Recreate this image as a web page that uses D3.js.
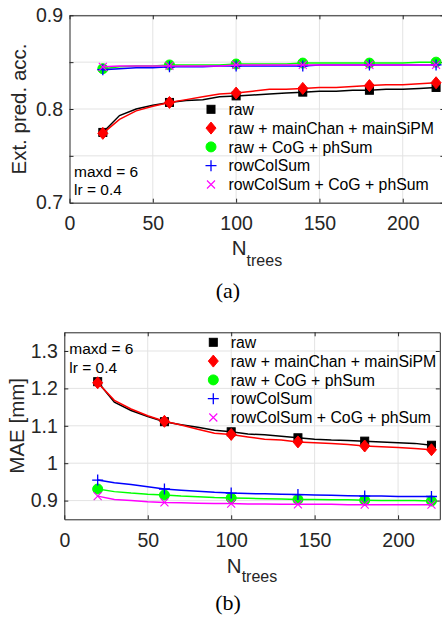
<!DOCTYPE html>
<html>
<head>
<meta charset="utf-8">
<script src="https://cdn.jsdelivr.net/npm/d3@7"></script>
<style>
  body { margin: 0; background: #fff; }
  text { font-family: "Liberation Sans", Arial, sans-serif; }
</style>
</head>
<body>
<svg width="442" height="625"></svg>
<script>
// number of trees on the dense line, and where the markers sit
var nTrees = [20, 30, 40, 50, 60, 70, 80, 90, 100, 110, 120, 130, 140, 150, 160, 170, 180, 190, 200, 210, 220];
var markerTrees = [20, 60, 100, 140, 180, 220];

var seriesNames = ["raw", "raw + mainChan + mainSiPM", "raw + CoG + phSum", "rowColSum", "rowColSum + CoG + phSum"];

// (a) extrapolated prediction accuracy
var accRaw      = [0.775, 0.793, 0.800, 0.804, 0.807, 0.809, 0.810, 0.813, 0.814, 0.815, 0.816, 0.817, 0.818, 0.819, 0.819, 0.820, 0.820, 0.821, 0.821, 0.822, 0.823];
var accMainChan = [0.774, 0.789, 0.798, 0.803, 0.807, 0.810, 0.813, 0.816, 0.817, 0.819, 0.821, 0.821, 0.822, 0.823, 0.823, 0.824, 0.825, 0.826, 0.826, 0.827, 0.828];
var accCoG      = [0.843, 0.845, 0.846, 0.846, 0.847, 0.847, 0.847, 0.847, 0.848, 0.848, 0.848, 0.848, 0.849, 0.849, 0.849, 0.849, 0.849, 0.849, 0.849, 0.850, 0.850];
var accRowCol   = [0.842, 0.843, 0.844, 0.844, 0.845, 0.845, 0.845, 0.846, 0.846, 0.846, 0.846, 0.846, 0.846, 0.847, 0.847, 0.847, 0.847, 0.847, 0.847, 0.847, 0.847];
var accRowCoG   = [0.845, 0.846, 0.846, 0.846, 0.846, 0.846, 0.846, 0.846, 0.847, 0.847, 0.847, 0.847, 0.847, 0.847, 0.847, 0.847, 0.847, 0.847, 0.847, 0.847, 0.847];

// (b) mean absolute error in mm
var maeRaw      = [1.218, 1.163, 1.141, 1.125, 1.111, 1.103, 1.096, 1.088, 1.084, 1.078, 1.076, 1.072, 1.068, 1.064, 1.062, 1.061, 1.059, 1.057, 1.055, 1.053, 1.048];
var maeMainChan = [1.215, 1.168, 1.145, 1.127, 1.112, 1.102, 1.091, 1.080, 1.077, 1.070, 1.064, 1.062, 1.057, 1.055, 1.053, 1.050, 1.046, 1.044, 1.042, 1.039, 1.036];
var maeCoG      = [0.931, 0.924, 0.920, 0.917, 0.915, 0.912, 0.910, 0.908, 0.907, 0.906, 0.905, 0.904, 0.903, 0.903, 0.902, 0.902, 0.901, 0.900, 0.900, 0.900, 0.899];
var maeRowCol   = [0.955, 0.948, 0.943, 0.937, 0.931, 0.928, 0.925, 0.922, 0.920, 0.919, 0.918, 0.917, 0.916, 0.915, 0.914, 0.913, 0.912, 0.912, 0.911, 0.911, 0.911];
var maeRowCoG   = [0.912, 0.903, 0.900, 0.897, 0.895, 0.894, 0.893, 0.892, 0.892, 0.891, 0.891, 0.890, 0.890, 0.890, 0.890, 0.889, 0.889, 0.889, 0.889, 0.889, 0.889];

var xTicks = [0, 50, 100, 150, 200];
var accTicks = [0.7, 0.75, 0.8, 0.85, 0.9];
var accTickLabels = ["0.7", "", "0.8", "", "0.9"];
var maeTicks = [0.9, 1.0, 1.1, 1.2, 1.3];
var maeTickLabels = ["0.9", "1", "1.1", "1.2", "1.3"];

var colors = ["#000000", "#ff0000", "#00ff00", "#0000ff", "#ff00ff"];
var shapes = ["square", "diamond", "circle", "plus", "cross"];

var svg = d3.select("svg");
var axisColor = "#262626";

function drawMarker(g, shape, color, cx, cy) {
  if (shape == "square") {
    g.append("rect").attr("x", cx - 4).attr("y", cy - 4).attr("width", 8).attr("height", 8)
      .attr("fill", color).attr("stroke", color);
  } else if (shape == "diamond") {
    g.append("path").attr("d", "M" + cx + "," + (cy - 6) + "L" + (cx + 5) + "," + cy + "L" + cx + "," + (cy + 6) + "L" + (cx - 5) + "," + cy + "Z")
      .attr("fill", color).attr("stroke", color);
  } else if (shape == "circle") {
    g.append("circle").attr("cx", cx).attr("cy", cy).attr("r", 5).attr("fill", color).attr("stroke", color);
  } else if (shape == "plus") {
    g.append("path").attr("d", "M" + (cx - 5.5) + "," + cy + "H" + (cx + 5.5) + "M" + cx + "," + (cy - 5.5) + "V" + (cy + 5.5))
      .attr("stroke", color).attr("stroke-width", 1.3).attr("fill", "none");
  } else {
    g.append("path").attr("d", "M" + (cx - 4) + "," + (cy - 4) + "L" + (cx + 4) + "," + (cy + 4) + "M" + (cx - 4) + "," + (cy + 4) + "L" + (cx + 4) + "," + (cy - 4))
      .attr("stroke", color).attr("stroke-width", 1.1).attr("fill", "none");
  }
}

function drawPanel(p) {
  var g = svg.append("g");
  var x = d3.scaleLinear().domain([0, 225]).range([p.left, p.right]);
  var y = d3.scaleLinear().domain(p.yDomain).range([p.bottom, p.top]);

  // grid
  g.append("g").selectAll("line").data(xTicks.slice(1)).enter().append("line")
    .attr("x1", function(d) { return x(d); }).attr("x2", function(d) { return x(d); })
    .attr("y1", p.top).attr("y2", p.bottom)
    .attr("stroke", "#e3e3e3").attr("stroke-width", 1);
  g.append("g").selectAll("line").data(p.yTicks).enter().append("line")
    .attr("x1", p.left).attr("x2", p.right)
    .attr("y1", function(d) { return y(d); }).attr("y2", function(d) { return y(d); })
    .attr("stroke", "#e3e3e3").attr("stroke-width", 1);

  // axes, ticks pointing inwards like matlab
  var ax = [
    g.append("g").attr("transform", "translate(0," + p.bottom + ")")
      .call(d3.axisBottom(x).tickValues(xTicks).tickSizeInner(-4).tickSizeOuter(0).tickPadding(13.5)),
    g.append("g").attr("transform", "translate(0," + p.top + ")")
      .call(d3.axisTop(x).tickValues(xTicks).tickSizeInner(-4).tickSizeOuter(0).tickFormat("")),
    g.append("g").attr("transform", "translate(" + p.left + ",0)")
      .call(d3.axisLeft(y).tickValues(p.yTicks).tickSizeInner(-4).tickSizeOuter(0).tickPadding(6.5)
        .tickFormat(function(d, i) { return p.yTickLabels[i]; })),
    g.append("g").attr("transform", "translate(" + p.right + ",0)")
      .call(d3.axisRight(y).tickValues(p.yTicks).tickSizeInner(-4).tickSizeOuter(0).tickFormat(""))
  ];
  ax.forEach(function(a) {
    a.attr("font-family", "Liberation Sans, Arial, sans-serif").attr("font-size", 19.5);
    a.selectAll("path, line").attr("stroke", axisColor).attr("stroke-width", 1);
    a.selectAll("text").attr("fill", axisColor);
  });

  // curves then markers, series by series
  var line = d3.line().x(function(d, i) { return x(nTrees[i]); }).y(function(d) { return y(d); });
  p.series.forEach(function(vals, s) {
    g.append("path").datum(vals).attr("d", line)
      .attr("fill", "none").attr("stroke", colors[s]).attr("stroke-width", 1.5);
    var mg = g.append("g");
    nTrees.forEach(function(n, i) {
      if (markerTrees.indexOf(n) >= 0) drawMarker(mg, shapes[s], colors[s], x(n), y(vals[i]));
    });
  });

  // legend
  var lg = g.append("g");
  seriesNames.forEach(function(name, s) {
    var ly = p.legendY + s * 18.8;
    drawMarker(lg, shapes[s], colors[s], p.legendX, ly);
    lg.append("text").attr("x", p.legendX + 17.5).attr("y", ly).attr("dy", "0.36em")
      .attr("font-size", 15.8).attr("fill", "#000").text(name);
  });

  // hyper-parameters
  g.append("text").attr("x", p.annX).attr("y", p.annY).attr("font-size", 15.5).text("maxd = 6");
  g.append("text").attr("x", p.annX).attr("y", p.annY + 18.3).attr("font-size", 15.5).text("lr = 0.4");

  // labels
  var cy = (p.top + p.bottom) / 2;
  g.append("text").attr("transform", "translate(" + p.yLabelX + "," + cy + ") rotate(-90)")
    .attr("text-anchor", "middle").attr("font-size", 20.5).attr("fill", axisColor).text(p.yLabel);

  var xl = g.append("text").attr("x", (p.left + p.right) / 2).attr("y", p.xLabelY)
    .attr("text-anchor", "middle").attr("fill", axisColor);
  xl.append("tspan").attr("font-size", 20.5).text("N");
  xl.append("tspan").attr("font-size", 16).attr("dy", p.subDy).text("trees");

  g.append("text").attr("x", 228).attr("y", p.capY).attr("text-anchor", "middle")
    .style("font-family", "Liberation Serif, Times New Roman, serif").attr("font-size", 22).text(p.caption);
}

drawPanel({
  left: 69.5, right: 444.4, top: 15.3, bottom: 202.7,
  yDomain: [0.7, 0.9], yTicks: accTicks, yTickLabels: accTickLabels,
  series: [accRaw, accMainChan, accCoG, accRowCol, accRowCoG],
  legendX: 211, legendY: 109.3,
  annX: 74, annY: 176.7,
  yLabel: "Ext. pred. acc.", yLabelX: 26,
  xLabelY: 255, subDy: 10.5,
  capY: 297.5, caption: "(a)"
});

drawPanel({
  left: 64.3, right: 439.8, top: 332.3, bottom: 519.3,
  yDomain: [0.85, 1.35], yTicks: maeTicks, yTickLabels: maeTickLabels,
  series: [maeRaw, maeMainChan, maeCoG, maeRowCol, maeRowCoG],
  legendX: 213.3, legendY: 342.3,
  annX: 69.3, annY: 354.3,
  yLabel: "MAE [mm]", yLabelX: 24,
  xLabelY: 573.3, subDy: 9,
  capY: 609.5, caption: "(b)"
});
</script>
</body>
</html>
